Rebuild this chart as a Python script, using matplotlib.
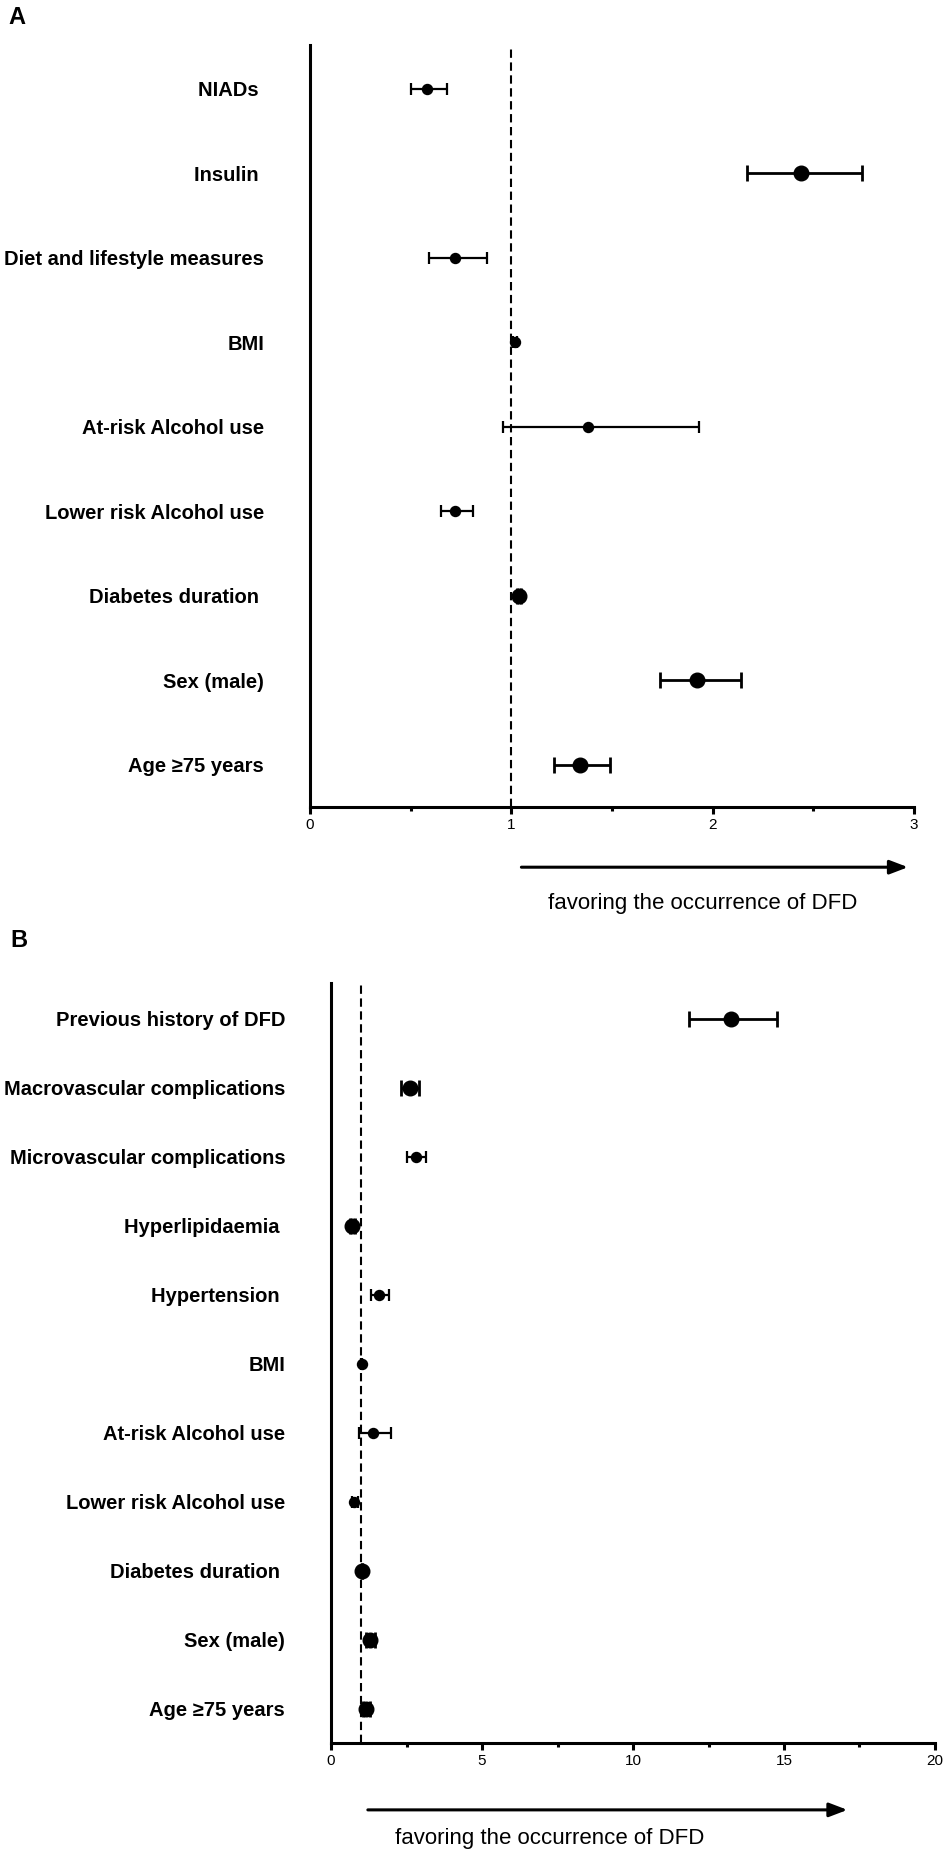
import matplotlib
matplotlib.use('Agg')
import matplotlib.pyplot as plt
from matplotlib.ticker import MultipleLocator

plt.rcParams['font.family'] = ['Liberation Sans', 'DejaVu Sans']

# ---------------- Panel A data ----------------
labels_a = ['NIADs ', 'Insulin ', 'Diet and lifestyle measures', 'BMI',
            'At-risk Alcohol use', 'Lower risk Alcohol use',
            'Diabetes duration ', 'Sex (male)', 'Age \u226575 years']
or_a = [0.58, 2.44, 0.72, 1.02, 1.38, 0.72, 1.04, 1.92, 1.34]
lo_a = [0.50, 2.17, 0.59, 1.01, 0.96, 0.65, 1.03, 1.74, 1.21]
hi_a = [0.68, 2.74, 0.88, 1.03, 1.93, 0.81, 1.05, 2.14, 1.49]
ticks_a = [0, 1, 2, 3]

# ---------------- Panel B data ----------------
labels_b = ['Previous history of DFD', 'Macrovascular complications',
            'Microvascular complications', 'Hyperlipidaemia ', 'Hypertension ',
            'BMI', 'At-risk Alcohol use', 'Lower risk Alcohol use',
            'Diabetes duration ', 'Sex (male)', 'Age \u226575 years']
or_b = [13.24, 2.60, 2.83, 0.70, 1.60, 1.02, 1.40, 0.77, 1.02, 1.30, 1.17]
lo_b = [11.84, 2.32, 2.52, 0.62, 1.32, 1.00, 0.94, 0.68, 1.01, 1.15, 1.05]
hi_b = [14.76, 2.93, 3.15, 0.79, 1.91, 1.04, 1.99, 0.88, 1.03, 1.47, 1.30]
ticks_b = [0, 5, 10, 15, 20]

arrow_text = 'favoring the occurrence of DFD'

# style groups (rows drawn with larger markers)
large_a = {'Insulin ', 'Diabetes duration ', 'Sex (male)', 'Age \u226575 years'}
large_b = {'Previous history of DFD', 'Macrovascular complications', 'Hyperlipidaemia ',
           'Diabetes duration ', 'Sex (male)', 'Age \u226575 years'}

W, H = 945, 1850
fig = plt.figure(figsize=(W / 100, H / 100), dpi=100)


def panel(px_left, px_top, px_right, px_bottom, labels, orv, lo, hi, large,
          ticks, minor, arrow_start, arrow_tip, arrow_y, text_x, text_y,
          letter, letter_xy):
    rect = [px_left / W, 1 - px_bottom / H, (px_right - px_left) / W,
            (px_bottom - px_top) / H]
    ax = fig.add_axes(rect)
    n = len(labels)
    for i in range(n):
        big = labels[i] in large
        ax.errorbar(orv[i], i, xerr=[[orv[i] - lo[i]], [hi[i] - orv[i]]],
                    fmt='o', color='black', ms=10.5 if big else 7.2,
                    elinewidth=2.0 if big else 1.6,
                    capsize=6 if big else 4,
                    capthick=2.0 if big else 1.6, zorder=3)
    ax.axvline(1, color='black', lw=1.5, ls=(0, (4, 2.2)), zorder=1)
    ax.set_xlim(ticks[0], ticks[-1])
    ax.set_ylim(n - 0.5, -0.52)
    ax.set_xticks(ticks)
    ax.set_xticklabels([str(t) for t in ticks])
    ax.xaxis.set_minor_locator(MultipleLocator(minor))
    ax.set_yticks(range(n))
    ax.set_yticklabels(labels, fontweight='bold', fontsize=14.5)
    ax.tick_params(axis='y', length=0, pad=33)
    ax.tick_params(axis='x', which='major', length=5, width=2.2,
                   direction='out', labelsize=11, pad=3)
    ax.tick_params(axis='x', which='minor', length=3, width=2.2,
                   direction='out')
    for s in ['top', 'right']:
        ax.spines[s].set_visible(False)
    for s in ['left', 'bottom']:
        ax.spines[s].set_linewidth(2.2)
    tr = ax.get_xaxis_transform()
    ax.annotate('', xy=(arrow_tip, arrow_y), xytext=(arrow_start, arrow_y),
                xycoords=tr, textcoords=tr, annotation_clip=False,
                arrowprops=dict(arrowstyle='-|>,head_length=11,head_width=4.2',
                                mutation_scale=1, lw=2.2, color='black',
                                shrinkA=0, shrinkB=0))
    ax.text(text_x, text_y, arrow_text, transform=tr, ha='left', va='center',
            fontsize=16)
    fig.text(letter_xy[0] / W, 1 - letter_xy[1] / H, letter, fontsize=17,
             fontweight='bold', ha='left', va='baseline')
    return ax


panel(310, 45, 914, 807, labels_a, or_a, lo_a, hi_a, large_a, ticks_a, 0.5,
      1.05, 2.97, -0.079, 1.182, -0.126, 'A', (8, 24))
panel(331, 983, 935, 1743, labels_b, or_b, lo_b, hi_b, large_b, ticks_b, 2.5,
      1.22, 17.1, -0.088, 2.12, -0.126, 'B', (10, 947))

fig.savefig('out.png', dpi=100)
